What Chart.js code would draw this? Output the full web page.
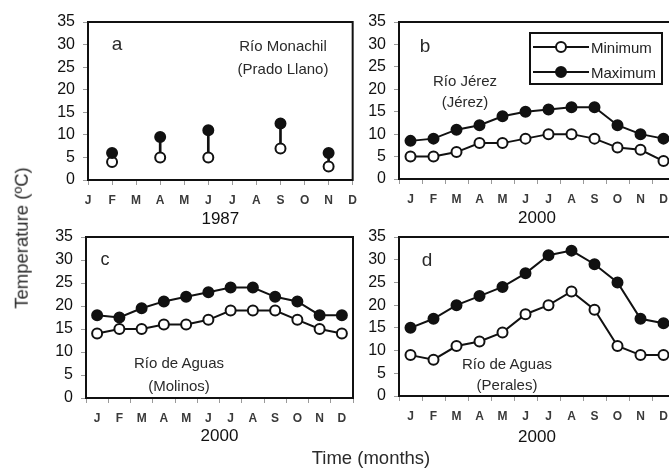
<!DOCTYPE html>
<html><head><meta charset="utf-8">
<script src="https://cdn.jsdelivr.net/npm/chart.js@4.4.1/dist/chart.umd.min.js"></script>
<style>
html,body{margin:0;padding:0;width:669px;height:469px;overflow:hidden;background:#fff;font-family:"Liberation Sans",Arial,sans-serif;}
canvas{position:absolute;}
.t{position:absolute;white-space:nowrap;color:#2a2a2a;transform:translate(-50%,-50%);line-height:1;}
.lg{position:absolute;left:529px;top:32px;width:130px;height:49px;border:2px solid #111;background:#fff;}
.lr{position:absolute;left:2px;height:20px;display:flex;align-items:center;font-size:15px;color:#222;}
</style></head><body>
<canvas id="ca" width="365" height="230" style="left:0;top:0"></canvas>
<canvas id="cb" width="331" height="229" style="left:349px;top:0"></canvas>
<canvas id="cc" width="361" height="232" style="left:0;top:215px"></canvas>
<canvas id="cd" width="331" height="233" style="left:349px;top:215px"></canvas>

<div class="t" style="left:117px;top:43px;font-size:19px">a</div>
<div class="t" style="left:283px;top:45px;font-size:15px">Río Monachil</div>
<div class="t" style="left:283px;top:68px;font-size:15px">(Prado Llano)</div>
<div class="t" style="left:425px;top:45px;font-size:19px">b</div>
<div class="t" style="left:465px;top:80px;font-size:15px">Río Jérez</div>
<div class="t" style="left:465px;top:101px;font-size:15px">(Jérez)</div>
<div class="t" style="left:105px;top:259px;font-size:18px">c</div>
<div class="t" style="left:179px;top:362px;font-size:15px">Río de Aguas</div>
<div class="t" style="left:179px;top:385px;font-size:15px">(Molinos)</div>
<div class="t" style="left:427px;top:259px;font-size:19px">d</div>
<div class="t" style="left:507px;top:363px;font-size:15px">Río de Aguas</div>
<div class="t" style="left:507px;top:384px;font-size:15px">(Perales)</div>
<div class="t" style="left:22px;top:238px;font-size:18.5px;transform:translate(-50%,-50%) rotate(-90deg)">Temperature (ºC)</div>
<div class="t" style="left:371px;top:458px;font-size:18.5px">Time (months)</div>

<div class="lg">
  <div class="lr" style="top:3px"><svg width="56" height="14"><line x1="0" y1="7" x2="56" y2="7" stroke="#111" stroke-width="2"/><circle cx="28" cy="7" r="5" fill="#fff" stroke="#111" stroke-width="2"/></svg><span style="margin-left:2px">Minimum</span></div>
  <div class="lr" style="top:28px"><svg width="56" height="14"><line x1="0" y1="7" x2="56" y2="7" stroke="#111" stroke-width="2"/><circle cx="28" cy="7" r="5" fill="#111" stroke="#111" stroke-width="2"/></svg><span style="margin-left:2px">Maximum</span></div>
</div>

<script>
// ---- data ----
const months = ['J','F','M','A','M','J','J','A','S','O','N','D'];
const yTicks = [0,5,10,15,20,25,30,35];
const yearA = '1987';
const yearBCD = '2000';
// Panel a: Río Monachil (Prado Llano), 1987
const aMin = [null,4,null,5,null,5,null,null,7,null,3,null];
const aMax = [null,6,null,9.5,null,11,null,null,12.5,null,6,null];
// Panel b: Río Jérez (Jérez), 2000
const bMin = [5,5,6,8,8,9,10,10,9,7,6.5,4];
const bMax = [8.5,9,11,12,14,15,15.5,16,16,12,10,9];
// Panel c: Río de Aguas (Molinos), 2000
const cMin = [14,15,15,16,16,17,19,19,19,17,15,14];
const cMax = [18,17.5,19.5,21,22,23,24,24,22,21,18,18];
// Panel d: Río de Aguas (Perales), 2000
const dMin = [9,8,11,12,14,18,20,23,19,11,9,9];
const dMax = [15,17,20,22,24,27,31,32,29,25,17,16];

Chart.defaults.font.family = '"Liberation Sans", Arial, sans-serif';
Chart.defaults.animation = false;

const framePlugin = {
  id: 'frame',
  afterDatasetsDraw(chart) {
    const a = chart.chartArea, c = chart.ctx;
    c.save(); c.strokeStyle = '#111'; c.lineWidth = 2;
    c.strokeRect(a.left, a.top, a.right - a.left, a.bottom - a.top);
    c.restore();
  }
};

function lineDs(label, data, filled, showLine) {
  return {
    type: 'line', label, data, showLine, spanGaps: false,
    borderColor: '#111', borderWidth: 2,
    pointRadius: 5, pointBorderWidth: 2, pointStyle: 'circle',
    pointBackgroundColor: filled ? '#111' : '#fff', pointBorderColor: '#111',
    order: 1, tension: 0
  };
}

function opts(xOffset, year, wy, hx, padR) {
  return {
    responsive: false, animation: false, devicePixelRatio: 1,
    layout: { padding: { top: 22, left: 0, right: padR, bottom: 0 }, autoPadding: false },
    plugins: { legend: { display: false }, tooltip: { enabled: false } },
    scales: {
      x: {
        type: 'category', offset: xOffset,
        grid: { display: true, drawOnChartArea: false, drawTicks: true, tickLength: 5, color: '#9a9a9a', offset: xOffset },
        border: { display: false },
        ticks: { font: { size: 12, weight: 'bold' }, color: '#3a3a3a', padding: 8, maxRotation: 0, autoSkip: false },
        title: { display: true, text: year, font: { size: 17 }, color: '#111', padding: 0 },
        afterFit: s => { s.height = hx; }
      },
      y: {
        min: 0, max: 35,
        afterBuildTicks: s => { s.ticks = yTicks.map(v => ({ value: v })); },
        grid: { display: true, drawOnChartArea: false, drawTicks: true, tickLength: 5, color: '#9a9a9a' },
        border: { display: false },
        ticks: { font: { size: 16 }, color: '#111', padding: 8 },
        afterFit: s => { s.width = wy; }
      }
    }
  };
}

// Panel a
new Chart(document.getElementById('ca'), {
  type: 'line',
  data: {
    labels: months,
    datasets: [
      { type: 'bar', label: 'range', data: months.map((m, i) => aMin[i] == null ? null : [aMin[i], aMax[i]]),
        backgroundColor: '#111', barThickness: 2, order: 2 },
      lineDs('Maximum', aMax, true, false),
      lineDs('Minimum', aMin, false, false)
    ]
  },
  options: opts(false, yearA, 88, 50, 8),
  plugins: [framePlugin]
});

function panel(id, mn, mx, wy, hx, padR) {
  new Chart(document.getElementById(id), {
    type: 'line',
    data: { labels: months, datasets: [ lineDs('Maximum', mx, true, true), lineDs('Minimum', mn, false, true) ] },
    options: opts(true, yearBCD, wy, hx, padR),
    plugins: [framePlugin]
  });
}
panel('cb', bMin, bMax, 50, 50, 5);
panel('cc', cMin, cMax, 86, 49, 8);
panel('cd', dMin, dMax, 50, 52, 5);
</script>
</body></html>
